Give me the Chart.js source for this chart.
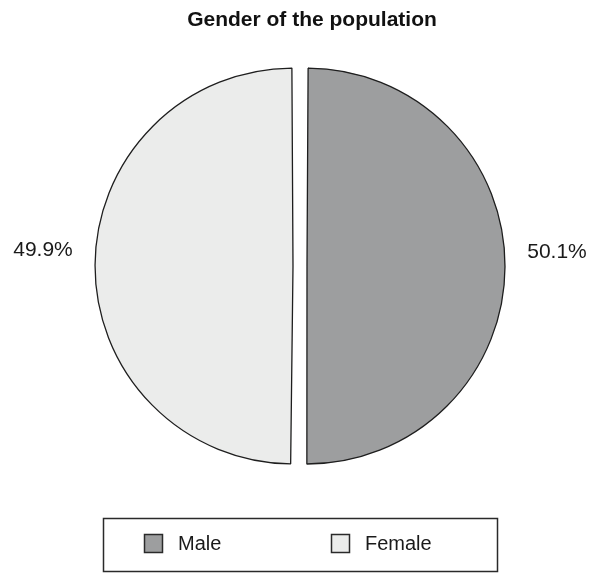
<!DOCTYPE html>
<html>
<head>
<meta charset="utf-8">
<script src="https://cdn.jsdelivr.net/npm/chart.js@4/dist/chart.umd.min.js"></script>
<style>
  html, body { margin: 0; padding: 0; background: #ffffff; }
  #wrap { width: 601px; height: 573px; position: relative; }
</style>
</head>
<body>
<div id="wrap"><canvas id="c" width="601" height="573"></canvas></div>
<script>
const titleText = 'Gender of the population';
const categories = ['Male', 'Female'];
const shares = [50.1, 49.9];
const sliceColors = ['#9d9e9f', '#ebeceb'];

const FONT = "'Liberation Sans', Arial, Helvetica, sans-serif";

const titleDraw = {
  id: 'titleDraw',
  afterDraw(chart) {
    const ctx = chart.ctx;
    ctx.save();
    ctx.font = 'bold 21px ' + FONT;
    ctx.fillStyle = '#111111';
    ctx.textAlign = 'center';
    ctx.textBaseline = 'middle';
    ctx.fillText(titleText, 312, 20);
    ctx.restore();
  }
};

const outsideLabels = {
  id: 'outsideLabels',
  afterDatasetsDraw(chart) {
    const ctx = chart.ctx;
    const meta = chart.getDatasetMeta(0);
    ctx.save();
    ctx.font = '21px ' + FONT;
    ctx.fillStyle = '#1a1a1a';
    ctx.textAlign = 'center';
    ctx.textBaseline = 'middle';
    meta.data.forEach((arc, i) => {
      const p = arc.getProps(['x', 'y', 'startAngle', 'endAngle', 'outerRadius'], true);
      const mid = (p.startAngle + p.endAngle) / 2;
      const d = 257;
      const x = p.x + Math.cos(mid) * d;
      const y = p.y + Math.sin(mid) * d - 15;
      ctx.fillText(shares[i].toFixed(1) + '%', x, y);
    });
    ctx.restore();
  }
};

const boxedLegend = {
  id: 'boxedLegend',
  afterDraw(chart) {
    const ctx = chart.ctx;
    const ds = chart.data.datasets[0];
    ctx.save();
    ctx.lineWidth = 1.5;
    ctx.strokeStyle = '#2a2a2a';
    ctx.strokeRect(103.5, 518.5, 394, 53);
    const swX = [144, 331];
    const txX = [178, 365];
    ctx.font = '20px ' + FONT;
    ctx.textBaseline = 'middle';
    ctx.textAlign = 'left';
    chart.data.labels.forEach((lab, i) => {
      ctx.fillStyle = ds.backgroundColor[i];
      ctx.fillRect(swX[i] + 0.5, 534.5, 18, 18);
      ctx.strokeStyle = '#2a2a2a';
      ctx.lineWidth = 1.5;
      ctx.strokeRect(swX[i] + 0.5, 534.5, 18, 18);
      ctx.fillStyle = '#1a1a1a';
      ctx.fillText(lab, txX[i], 544);
    });
    ctx.restore();
  }
};

new Chart(document.getElementById('c'), {
  type: 'pie',
  data: {
    labels: categories,
    datasets: [{
      data: shares,
      backgroundColor: sliceColors,
      borderColor: '#1e1e1e',
      borderWidth: 1.3,
      offset: 28,
      radius: 191
    }]
  },
  options: {
    responsive: false,
    animation: false,
    devicePixelRatio: 1,
    layout: { padding: { top: 32, left: 0, right: 1, bottom: 73 } },
    plugins: {
      legend: { display: false },
      tooltip: { enabled: false },
      title: { display: false }
    }
  },
  plugins: [outsideLabels, boxedLegend, titleDraw]
});
</script>
</body>
</html>
